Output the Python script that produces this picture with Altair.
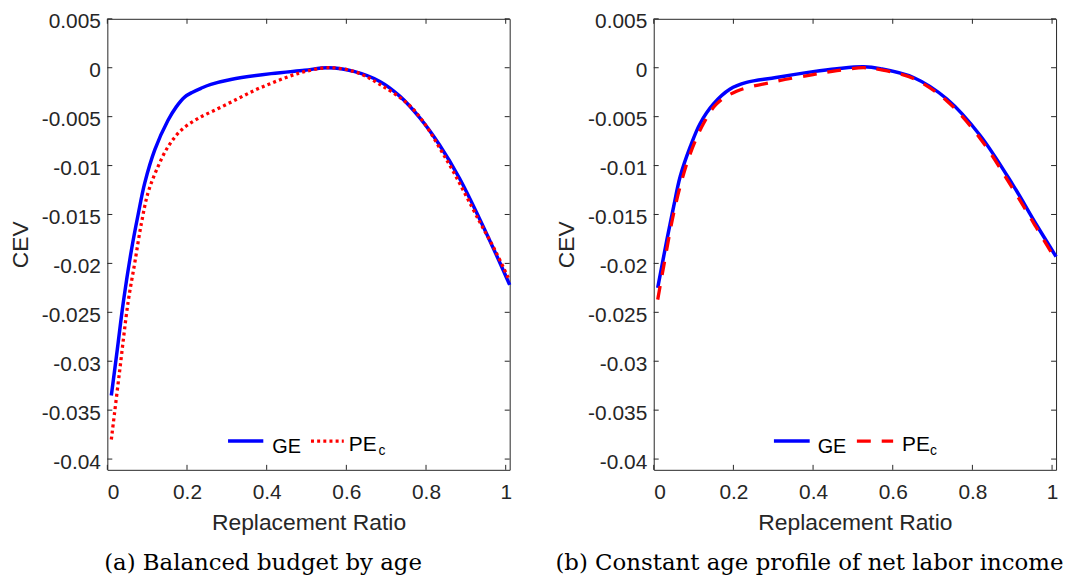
import altair as alt
import pandas as pd

# ---------------- data ----------------
A_GE_X = [0.01, 0.025, 0.04, 0.0606, 0.0773, 0.0938, 0.119, 0.152, 0.173, 0.194, 0.214, 0.235,
          0.26, 0.310, 0.411, 0.495, 0.554, 0.621, 0.684, 0.734, 0.784, 0.834, 0.884, 0.934,
          0.984, 1.01]
A_GE_Y = [-0.0335, -0.0288, -0.0240, -0.0186, -0.0150, -0.0118, -0.0084, -0.0054, -0.0040,
          -0.0030, -0.0025, -0.0021, -0.0017, -0.0012, -0.0006, -0.00026, 0.0, -0.0004,
          -0.0014, -0.0029, -0.0051, -0.0079, -0.0113, -0.0154, -0.0198, -0.0222]

A_PE_X = [0.01, 0.03, 0.052, 0.069, 0.0855, 0.102, 0.123, 0.152, 0.185, 0.227, 0.277, 0.326,
          0.37, 0.411, 0.455, 0.495, 0.554, 0.621, 0.684, 0.767, 0.850, 0.934, 0.975, 1.01]
A_PE_Y = [-0.0380, -0.0313, -0.0240, -0.0199, -0.0159, -0.0128, -0.0105, -0.0081, -0.0064,
          -0.0052, -0.0042, -0.0032, -0.0023, -0.0016, -0.0009, -0.0004, 0.0, -0.0004,
          -0.0017, -0.0042, -0.0093, -0.0157, -0.0188, -0.0218]

B_GE_X = [0.01, 0.033, 0.050, 0.0666, 0.0915, 0.1165, 0.150, 0.191, 0.233, 0.307, 0.40, 0.46,
          0.527, 0.569, 0.652, 0.736, 0.819, 0.902, 0.96, 1.01]
B_GE_Y = [-0.0225, -0.0176, -0.0142, -0.0111, -0.0081, -0.0057, -0.0037, -0.0022, -0.0015,
          -0.0010, -0.0004, -0.0001, 0.0001, -0.0001, -0.0010, -0.0032, -0.0069, -0.0120,
          -0.0160, -0.0193]

B_PE_X = [0.01, 0.025, 0.05, 0.0706, 0.0915, 0.125, 0.158, 0.208, 0.307, 0.40, 0.46, 0.527,
          0.569, 0.652, 0.736, 0.819, 0.902, 0.96, 1.01]
B_PE_Y = [-0.0237, -0.0203, -0.0149, -0.0115, -0.0088, -0.0057, -0.0037, -0.0024, -0.0014,
          -0.0007, -0.0003, 0.0, -0.0002, -0.0011, -0.0034, -0.0072, -0.0124, -0.0163, -0.0197]

X_TICKS = [0, 0.2, 0.4, 0.6, 0.8, 1]
Y_TICKS = [0.005, 0, -0.005, -0.01, -0.015, -0.02, -0.025, -0.03, -0.035, -0.04]
SERIES = ["GE", "PE"]
SUBSCRIPT = ["c"]
CAPTIONS = ["(a) Balanced budget by age",
            "(b) Constant age profile of net labor income"]
X_TITLE = "Replacement Ratio"
Y_TITLE = "CEV"

# ---------------- styling ----------------
W = 405
H = 454
XDOM = [0, 1.01]
YDOM = [-0.0411, 0.005]
INK = "#262626"
FONT = "Liberation Sans"
BLUE = "#0000FF"
RED = "#FF0000"
TICK = 5
INTERP = "catmull-rom"


def make_panel(ge_x, ge_y, pe_x, pe_y, pe_dash, caption, leg):
    xs = alt.Scale(domain=XDOM, nice=False, zero=False)
    ys = alt.Scale(domain=YDOM, nice=False, zero=False)
    xax = alt.Axis(values=X_TICKS, format="~g", title=X_TITLE)
    yax = alt.Axis(values=Y_TICKS, title=Y_TITLE,
                   labelExpr="replace(format(datum.value, '.3~f'), '\u2212', '-')")
    ge_df = pd.DataFrame({"x": ge_x, "y": ge_y})
    pe_df = pd.DataFrame({"x": pe_x, "y": pe_y})

    ge = alt.Chart(ge_df).mark_line(color=BLUE, strokeWidth=3.5,
                                    interpolate=INTERP).encode(
        x=alt.X("x:Q", scale=xs, axis=xax), y=alt.Y("y:Q", scale=ys, axis=yax))
    pe = alt.Chart(pe_df).mark_line(color=RED, strokeWidth=3.3, strokeDash=pe_dash,
                                    strokeCap="butt", interpolate=INTERP).encode(
        x=alt.X("x:Q", scale=xs, axis=xax), y=alt.Y("y:Q", scale=ys, axis=yax))

    ytk = pd.DataFrame({"v": Y_TICKS})
    xtk = pd.DataFrame({"v": X_TICKS})
    yl = alt.Chart(ytk).mark_rule(color=INK, strokeWidth=1).encode(
        y=alt.Y("v:Q", scale=ys, axis=yax), x=alt.value(0), x2=alt.value(TICK))
    yr = alt.Chart(ytk).mark_rule(color=INK, strokeWidth=1).encode(
        y=alt.Y("v:Q", scale=ys, axis=yax), x=alt.value(W - TICK), x2=alt.value(W))
    xb = alt.Chart(xtk).mark_rule(color=INK, strokeWidth=1).encode(
        x=alt.X("v:Q", scale=xs, axis=xax), y=alt.value(H - TICK), y2=alt.value(H))
    xt = alt.Chart(xtk).mark_rule(color=INK, strokeWidth=1).encode(
        x=alt.X("v:Q", scale=xs, axis=xax), y=alt.value(0), y2=alt.value(TICK))

    # hand-built legend (to get the subscript)
    ge_lab = pd.DataFrame({"s": [SERIES[0]]})
    pe_lab = pd.DataFrame({"s": [SERIES[1]]})
    sub_lab = pd.DataFrame({"s": SUBSCRIPT})
    lg1 = alt.Chart(ge_lab).mark_rule(color=BLUE, strokeWidth=3.5).encode(
        x=alt.value(leg["ge0"]), x2=alt.value(leg["ge1"]), y=alt.value(leg["ly"]))
    lt1 = alt.Chart(ge_lab).mark_text(align="left", baseline="alphabetic", font=FONT,
                                      fontSize=20, color="black").encode(
        x=alt.value(leg["get"]), y=alt.value(leg["gey"]), text="s:N")
    lg2 = alt.Chart(pe_lab).mark_rule(color=RED, strokeWidth=3.3, strokeDash=pe_dash,
                                      strokeCap="butt").encode(
        x=alt.value(leg["pe0"]), x2=alt.value(leg["pe1"]), y=alt.value(leg["ly"]))
    lt2 = alt.Chart(pe_lab).mark_text(align="left", baseline="alphabetic", font=FONT,
                                      fontSize=21, color="black").encode(
        x=alt.value(leg["pet"]), y=alt.value(leg["pey"]), text="s:N")
    lt3 = alt.Chart(sub_lab).mark_text(align="left", baseline="alphabetic", font=FONT,
                                       fontSize=14, color="black").encode(
        x=alt.value(leg["sub"]), y=alt.value(leg["suby"]), text="s:N")

    return alt.layer(ge, pe, yl, yr, xb, xt, lg1, lt1, lg2, lt2, lt3).properties(
        width=W, height=H,
        title=alt.TitleParams(caption, orient="bottom", anchor="middle", frame="bounds",
                              font="DejaVu Serif", fontSize=23, fontWeight="normal",
                              color="black", offset=18))


LEG_A = dict(ge0=121.5, ge1=157, ly=425, get=166, gey=437, pe0=205, pe1=238,
             pet=243, pey=435.5, sub=273, suby=439)
LEG_B = dict(ge0=121, ge1=157, ly=425, get=165, gey=437, pe0=204.5, pe1=241,
             pet=250, pey=435.5, sub=278, suby=439)

left = make_panel(A_GE_X, A_GE_Y, A_PE_X, A_PE_Y, [3, 3.2], CAPTIONS[0], LEG_A)
right = make_panel(B_GE_X, B_GE_Y, B_PE_X, B_PE_Y, [14, 11], CAPTIONS[1], LEG_B)

chart = alt.hconcat(left, right, spacing=37).configure_view(
    stroke=INK, strokeWidth=1
).configure_axis(
    domain=False, ticks=False, tickSize=0, grid=False,
    labelFont=FONT, labelFontSize=21, labelColor=INK, labelPadding=7,
    titleFont=FONT, titleFontSize=23, titleColor=INK, titleFontWeight="normal",
    titlePadding=9
).configure_axisY(labelOffset=3).configure_axisX(labelPadding=12, titlePadding=9).properties(
    padding={"left": 0, "top": 0, "right": 0, "bottom": 0}
)

chart.save("out.html", embed_options={"renderer": "svg", "actions": False})
